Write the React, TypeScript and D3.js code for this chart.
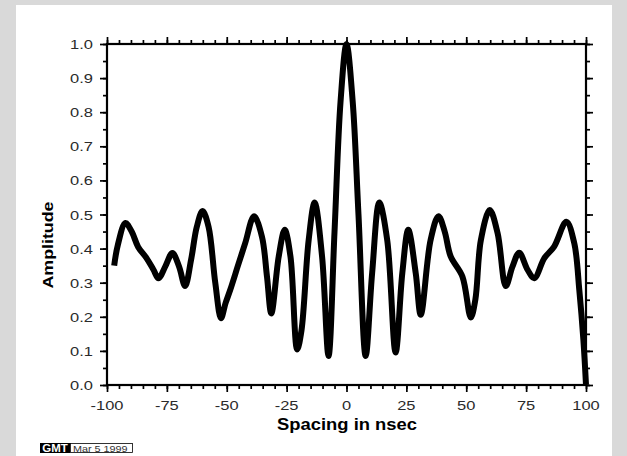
import React, { useRef, useEffect } from 'react';
import * as d3 from 'd3';

// spacing (nsec) vs amplitude
const spacing = [
  -97, -95.5, -92.3, -89.7, -87, -83.5, -80.6, -78.5, -75.7, -72.7, -69.9, -67.4,
  -64.9, -62.5, -60.1, -57.6, -54.8, -52.4, -50.5, -48.5, -45.1, -42.3, -38.6, -35.3,
  -33.2, -31.4, -28.3, -25.8, -23.4, -20.6, -18.8, -15.8, -13.3, -10.2, -7.5, -5,
  -2.5, 0, 2.6, 5, 8, 10.7, 13.7, 17, 20.5, 23.3, 25.8, 28.9, 31, 35.1, 38.4, 41,
  43.5, 48.4, 51.9, 53.8, 56.1, 59.8, 63.1, 66.5, 69.3, 72.1, 75.6, 78.4, 82.6, 86.7,
  91.8, 95.1, 97.2, 98.9, 100,
];
const amplitude = [
  0.35, 0.41, 0.475, 0.45, 0.405, 0.372, 0.338, 0.313, 0.347, 0.387, 0.347, 0.29,
  0.367, 0.464, 0.51, 0.464, 0.3, 0.196, 0.24, 0.28, 0.355, 0.416, 0.495, 0.435,
  0.318, 0.21, 0.377, 0.455, 0.377, 0.104, 0.16, 0.425, 0.535, 0.377, 0.085, 0.45,
  0.83, 1.0, 0.83, 0.5, 0.085, 0.328, 0.535, 0.425, 0.095, 0.328, 0.455, 0.328, 0.206,
  0.425, 0.495, 0.45, 0.377, 0.318, 0.198, 0.25, 0.425, 0.513, 0.445, 0.29, 0.347,
  0.388, 0.338, 0.313, 0.372, 0.406, 0.479, 0.416, 0.279, 0.133, 0.0,
];

const xLabels = [-100, -75, -50, -25, 0, 25, 50, 75, 100];
const yLabels = [0, 0.1, 0.2, 0.3, 0.4, 0.5, 0.6, 0.7, 0.8, 0.9, 1.0];
const xMinorStep = 5;
const yMinorStep = 0.05;

const W = 627;
const H = 456;

export default function App() {
  const svgRef = useRef<SVGSVGElement>(null);

  useEffect(() => {
    const svg = d3.select(svgRef.current);
    svg.selectAll('*').remove();

    const x = d3.scaleLinear().domain([-100, 100]).range([107, 586]);
    const y = d3.scaleLinear().domain([0, 1]).range([385, 44]);

    // page background + white sheet
    svg.append('rect').attr('width', W).attr('height', H).attr('fill', '#d9d9d9');
    svg.append('rect').attr('x', 16).attr('y', 5).attr('width', 596).attr('height', H - 5).attr('fill', '#fff');

    const xMinor = d3.range(-100, 100.01, xMinorStep);
    const yMinor = d3.range(0, 1.001, yMinorStep);

    const styleAxis = (g: any) => {
      g.select('.domain').remove();
      g.selectAll('line').attr('stroke', '#000').attr('stroke-width', 1.7);
      g.selectAll('text').remove();
    };

    // minor + major ticks on all four sides, pointing outward
    const fr = svg.append('g');
    fr.append('g').attr('transform', `translate(0,${y(0)})`)
      .call(d3.axisBottom(x).tickValues(xMinor).tickSize(4)).call(styleAxis);
    fr.append('g').attr('transform', `translate(0,${y(0)})`)
      .call(d3.axisBottom(x).tickValues(xLabels).tickSize(7)).call(styleAxis);
    fr.append('g').attr('transform', `translate(0,${y(1)})`)
      .call(d3.axisTop(x).tickValues(xMinor).tickSize(4)).call(styleAxis);
    fr.append('g').attr('transform', `translate(0,${y(1)})`)
      .call(d3.axisTop(x).tickValues(xLabels).tickSize(7)).call(styleAxis);
    fr.append('g').attr('transform', `translate(${x(-100)},0)`)
      .call(d3.axisLeft(y).tickValues(yMinor).tickSize(4)).call(styleAxis);
    fr.append('g').attr('transform', `translate(${x(-100)},0)`)
      .call(d3.axisLeft(y).tickValues(yLabels).tickSize(7)).call(styleAxis);
    fr.append('g').attr('transform', `translate(${x(100)},0)`)
      .call(d3.axisRight(y).tickValues(yMinor).tickSize(4)).call(styleAxis);
    fr.append('g').attr('transform', `translate(${x(100)},0)`)
      .call(d3.axisRight(y).tickValues(yLabels).tickSize(7)).call(styleAxis);

    // frame
    fr.append('rect')
      .attr('x', x(-100)).attr('y', y(1))
      .attr('width', x(100) - x(-100)).attr('height', y(0) - y(1))
      .attr('fill', 'none').attr('stroke', '#000').attr('stroke-width', 2.2);

    // the curve
    const pts: [number, number][] = spacing.map((s, i) => [s, amplitude[i]]);
    const line = d3.line<[number, number]>()
      .x(d => x(d[0]))
      .y(d => y(d[1]))
      .curve(d3.curveCatmullRom.alpha(0.5));
    svg.append('path')
      .attr('d', line(pts))
      .attr('fill', 'none')
      .attr('stroke', '#000')
      .attr('stroke-width', 6)
      .attr('stroke-linejoin', 'round');

    // stretched text helper (reference lettering is wide)
    const txt = (px: number, py: number, s: string, anchor: string, size: number, sx: number, opts: any = {}) => {
      const t = svg.append('text')
        .attr('transform', `translate(${px},${py}) ${opts.rotate ? `rotate(${opts.rotate})` : ''} scale(${sx},1)`)
        .attr('text-anchor', anchor)
        .attr('font-family', '"Liberation Sans", Arial, sans-serif')
        .attr('font-size', size)
        .attr('font-weight', opts.bold ? 'bold' : 'normal')
        .attr('fill', opts.fill || '#000')
        .text(s);
      return t;
    };

    xLabels.forEach(v => txt(x(v), 410, String(v), 'middle', 13.5, 1.22, { fill: '#2a2a2a' }));
    yLabels.forEach(v => txt(93, y(v) + 5, v.toFixed(1), 'end', 13.5, 1.22, { fill: '#2a2a2a' }));

    txt(347, 430, 'Spacing in nsec', 'middle', 16, 1.15, { bold: true });
    txt(53, 245, 'Amplitude', 'middle', 15.5, 1.15, { bold: true, rotate: -90 });

    // GMT time stamp
    svg.append('rect').attr('x', 40).attr('y', 443).attr('width', 30).attr('height', 10).attr('fill', '#000');
    txt(55, 452, 'GMT', 'middle', 10, 1.15, { bold: true, fill: '#fff' });
    svg.append('rect').attr('x', 70.5).attr('y', 443.5).attr('width', 62).attr('height', 9)
      .attr('fill', 'none').attr('stroke', '#000').attr('stroke-width', 0.8);
    txt(73, 451.5, 'Mar 5 1999', 'start', 9, 1.2, { fill: '#333' });
  }, []);

  return (
    <svg
      ref={svgRef}
      width={W}
      height={H}
      style={{ position: 'absolute', left: 0, top: 0, display: 'block' }}
    />
  );
}
